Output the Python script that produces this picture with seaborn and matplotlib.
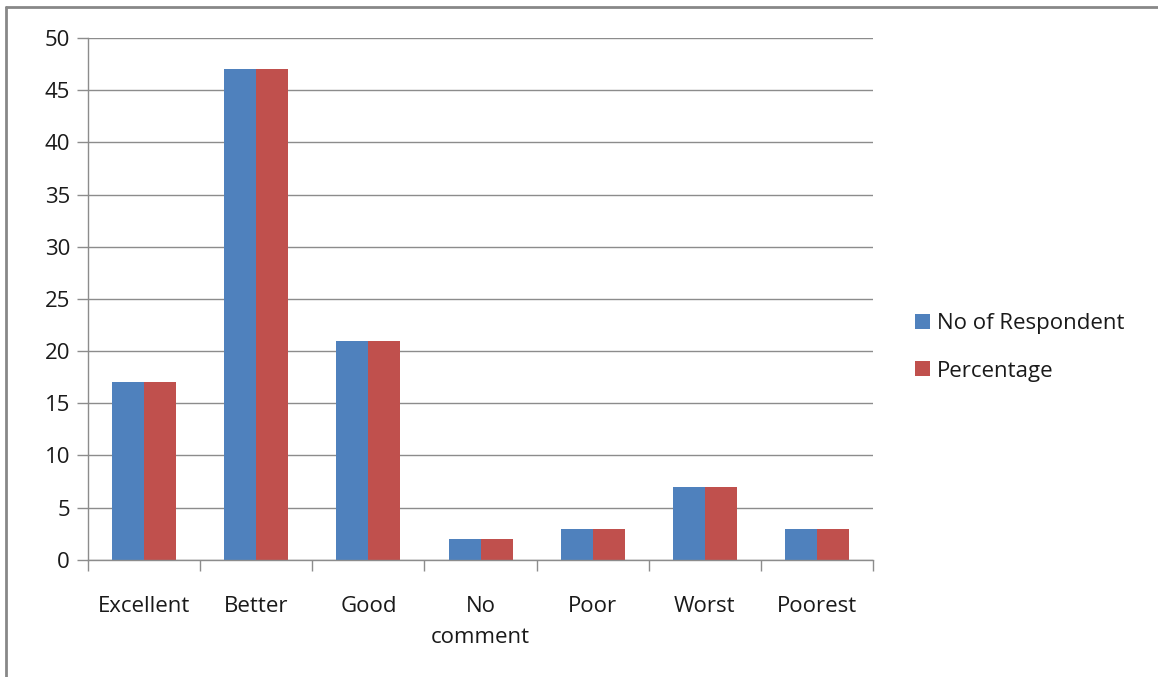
import matplotlib
matplotlib.use("Agg")
import matplotlib.pyplot as plt
import seaborn as sns
import pandas as pd
from matplotlib.lines import Line2D
from matplotlib.patches import Patch

categories = ["Excellent", "Better", "Good", "No\ncomment", "Poor", "Worst", "Poorest"]
respondents = [17, 47, 21, 2, 3, 7, 3]
percentage = [17, 47, 21, 2, 3, 7, 3]
series_names = ["No of Respondent", "Percentage"]
colors = ["#4F81BD", "#C0504D"]

df = pd.DataFrame({
    "Category": categories * 2,
    "Value": respondents + percentage,
    "Series": [series_names[0]] * len(categories) + [series_names[1]] * len(categories),
})

sns.set_theme(style="white")
plt.rcParams["font.family"] = ["Open Sans", "DejaVu Sans"]

fig = plt.figure(figsize=(11.58, 6.77), dpi=100)
ax = fig.add_axes([0.076, 0.173, 0.678, 0.771])

sns.barplot(data=df, x="Category", y="Value", hue="Series", palette=colors,
            width=0.57, ax=ax, legend=False, saturation=1, linewidth=0, edgecolor="none")

ax.set_ylim(0, 50)
ax.set_xlim(-0.5, len(categories) - 0.5)
ax.set_yticks(range(0, 51, 5))
ax.yaxis.grid(True, color="#8c8c8c", linewidth=1)
ax.set_axisbelow(True)
ax.set_xlabel("")
ax.set_ylabel("")

for s in ["top", "right"]:
    ax.spines[s].set_visible(False)
for s in ["left", "bottom"]:
    ax.spines[s].set_color("#8c8c8c")
    ax.spines[s].set_linewidth(1)

# category ticks at boundaries (Excel style)
ax.set_xticks([i - 0.5 for i in range(len(categories) + 1)], minor=False)
ax.set_xticklabels([""] * (len(categories) + 1))
ax.set_xticks(range(len(categories)), minor=True)
ax.set_xticklabels(categories, minor=True)
ax.tick_params(axis="x", which="major", length=8, direction="out", color="#8c8c8c", width=1, bottom=True)
ax.tick_params(axis="x", which="minor", length=0, pad=26, labelsize=16, labelcolor="#1a1a1a")
ax.tick_params(axis="y", length=8, direction="out", color="#8c8c8c", width=1, left=True,
               labelsize=16, labelcolor="#1a1a1a", pad=5)
for lbl in ax.get_xticklabels(minor=True):
    lbl.set_linespacing(1.65)
    lbl.set_verticalalignment("top")

handles = [Patch(facecolor=c, edgecolor="none") for c in colors]
fig.legend(handles, series_names, loc="center left", bbox_to_anchor=(0.773, 0.487),
           frameon=False, fontsize=16, handlelength=0.65, handleheight=0.65,
           handletextpad=0.35, labelspacing=1.2, labelcolor="#1a1a1a")

# outer border (left and top)
fig.add_artist(Line2D([0.0055, 0.0055], [0.0, 0.989], transform=fig.transFigure, color="#888888", linewidth=2))
fig.add_artist(Line2D([0.0055, 1.0], [0.989, 0.989], transform=fig.transFigure, color="#888888", linewidth=2))

fig.savefig("out.png", dpi=100)
